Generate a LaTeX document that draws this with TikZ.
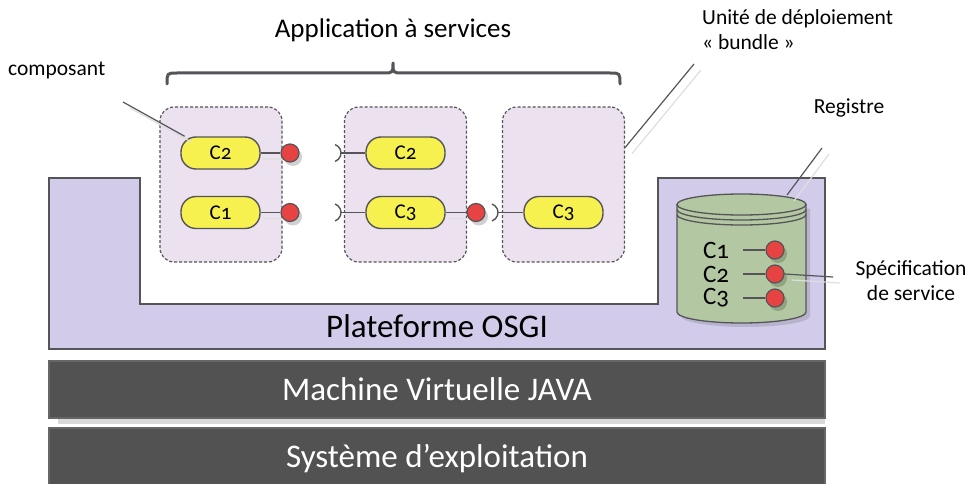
\documentclass[tikz,border=0pt]{standalone}
\usepackage{fontspec}
\setmainfont{Carlito}
\newfontfamily\compfont[Numbers=OldStyle]{Carlito}
\usetikzlibrary{
  positioning,
  shadows,
}
\definecolor{platform}{HTML}{D2CCEA}
\definecolor{bar}{HTML}{525252}
\definecolor{bundlefill}{HTML}{ECE1EF}
\definecolor{pill}{HTML}{F7F150}
\definecolor{dotred}{HTML}{E84343}
\definecolor{registry}{HTML}{B3C8A2}
\definecolor{edge}{HTML}{555559}

\begin{document}
\begin{tikzpicture}[
      x=1pt, y=-1pt,
      node distance = 21pt,
      every node/.style={
        align=center,
        inner sep=2pt,
      },
      layer/.style={draw=black!60,
        fill=bar,
        line width=1.2pt,
        minimum width=776pt,
        inner sep=0pt,
        text=white,
        font=\fontsize{33}{36}\selectfont,
      },
      bundle/.style={draw=edge,
        dash pattern=on 3pt off 2pt,
        line width=1.2pt,
        rounded corners=14pt,
        fill=bundlefill,
        minimum width=122pt,
        minimum height=155pt,
      },
      comp/.style={draw=edge,
        fill=pill,
        line width=1.4pt,
        rounded corners=15pt,
        minimum width=79pt,
        minimum height=32pt,
        font=\compfont\fontsize{21}{22}\selectfont,
      },
      dot/.style={circle,
        draw=edge,
        fill=dotred,
        line width=1.2pt,
        minimum size=18pt,
        inner sep=0pt,
        drop shadow={shadow xshift=3pt, shadow yshift=-4pt, fill=black, opacity=.18},
      },
      stub/.style={draw=edge,
        line width=1.4pt,
      },
      socket/.style={draw=edge,
        line width=1.4pt,
      },
      leader/.style={draw=edge,
        line width=1.2pt,
      },
      shade/.style={draw=black!13,
        line width=1.2pt,
      },
      label/.style={
        font=\fontsize{21.5}{25}\selectfont,
      },
      ]
      \useasboundingbox (0,0) rectangle (969,484);

      % platform, with the hole for the bundles
      \draw[fill=platform, draw=edge, line width=1.3pt]
        (49,178) -- (140,178) -- (140,304) -- (658,304) -- (658,178)
        -- (825,178) -- (825,349) -- (49,349) -- cycle;
      \node[font=\fontsize{33}{36}\selectfont] (plat) at (437,326) {Plateforme OSGI};

      \fill[black!15] (58,418) rectangle (825,424);
      \node[layer, minimum height=57pt] (jvm) at (437,389.5) {Machine Virtuelle JAVA};
      \node[layer, minimum height=62pt] (os) at (437,459) {Système d’exploitation};

      % bundles
      \node[bundle] (b1) at (221,184.5) {};
      \node[bundle] (b2) at (405.5,184.5) {};
      \node[bundle] (b3) at (563.5,184.5) {};

      \node[comp] (b1c2) at (220.5,153) {C2};
      \node[comp] (b1c1) at (220.5,212.5) {C1};
      \node[comp] (b2c2) at (405.5,153) {C2};
      \node[comp] (b2c3) at (405.5,212.5) {C3};
      \node[comp] (b3c3) at (563.5,212.5) {C3};

      \coordinate (sk1) at (341,153);
      \coordinate (sk2) at (341,212.5);
      \coordinate (sk3) at (498,212.5);
      \coordinate (b1p2) at (290,153);
      \coordinate (b1p1) at (290,212.5);
      \coordinate (b2p3) at (476,212.5);

      % faint shadow of the stubs
      \path[shade, transform canvas={shift={(2pt,-6pt)}}]
      (b1c2.east) edge (b1p2)
      (b1c1.east) edge (b1p1)
      (b2c3.east) edge (b2p3)
      ;

      \node[dot] (b1p2) at (b1p2) {};
      \node[dot] (b1p1) at (b1p1) {};
      \node[dot] (b2p3) at (b2p3) {};

      \draw[socket] ([xshift=-9pt]sk1) ++(-70:9) arc[start angle=-70, end angle=70, radius=9];
      \draw[socket] ([xshift=-9pt]sk2) ++(-70:9) arc[start angle=-70, end angle=70, radius=9];
      \draw[socket] ([xshift=-9pt]sk3) ++(-70:9) arc[start angle=-70, end angle=70, radius=9];

      \path[stub]
      (b1c2) edge (b1p2)
      (b1c1) edge (b1p1)
      (b2c3) edge (b2p3)
      (sk1) edge (b2c2)
      (sk2) edge (b2c3)
      (sk3) edge (b3c3)
      ;

      % registry
      \draw[fill=registry, draw=edge, line width=1.3pt,
            drop shadow={shadow xshift=4pt, shadow yshift=-4pt, fill=black, opacity=.12}]
        (677,204.5) -- (677,312) arc[start angle=180, end angle=0, x radius=64.5, y radius=11]
        -- (806,204.5) -- cycle;
      \draw[fill=registry, draw=edge, line width=1.3pt]
        (741.5,204.5) ellipse[x radius=64.5, y radius=10.5];
      \draw[draw=edge, line width=1.3pt]
        (677,209.5) arc[start angle=180, end angle=0, x radius=64.5, y radius=10.5];
      \draw[draw=edge, line width=1.3pt]
        (677,214.5) arc[start angle=180, end angle=0, x radius=64.5, y radius=10.5];

      \node[font=\compfont\fontsize{25}{26}\selectfont] (r1) at (716,250) {C1};
      \node[font=\compfont\fontsize{25}{26}\selectfont] (r2) at (716,274) {C2};
      \node[font=\compfont\fontsize{25}{26}\selectfont] (r3) at (716,298) {C3};
      \node[dot] (rp1) at (775,250) {};
      \node[dot] (rp2) at (775,274) {};
      \node[dot] (rp3) at (775,298) {};

      \path[stub, shorten <=12pt]
      (r1) edge (rp1)
      (r2) edge (rp2)
      (r3) edge (rp3)
      ;

      % brace and labels
      \draw[draw=edge, line width=3pt, line cap=round, line join=round]
        (167,84) .. controls (167,73) .. (177,73) -- (383,73)
        .. controls (393,73) .. (393,63) .. controls (393,73) .. (403,73)
        -- (610,73) .. controls (620,73) .. (620,84);
      \node[font=\fontsize{27}{30}\selectfont] (app) at (393,30) {Application à services};

      \node[label, anchor=west] (comp) at (6,70) {composant};
      \node[label, anchor=west, align=left] (unit) at (700,30) {Unité de déploiement\\«~bundle~»};
      \node[label] (reg) at (849,108) {Registre};
      \node[label] (spec) at (911,281) {Spécification\\de service};

      \coordinate (compend) at (123,102);
      \coordinate (unitend) at (694,64);
      \coordinate (regtop) at (787,195);
      \coordinate (regend) at (822,148);
      \coordinate (specend) at (833,277);

      % leader lines, shadow first
      \path[shade, transform canvas={shift={(7pt,-6pt)}}]
      (compend) edge (b1c2.155)
      ([yshift=37pt]b3.east) edge (unitend)
      (regtop) edge (regend)
      (rp2.east) edge (specend)
      ;
      \path[leader]
      (compend) edge (b1c2.155)
      ([yshift=37pt]b3.east) edge (unitend)
      (regtop) edge (regend)
      (rp2.east) edge (specend)
      ;
    \end{tikzpicture}
\end{document}
